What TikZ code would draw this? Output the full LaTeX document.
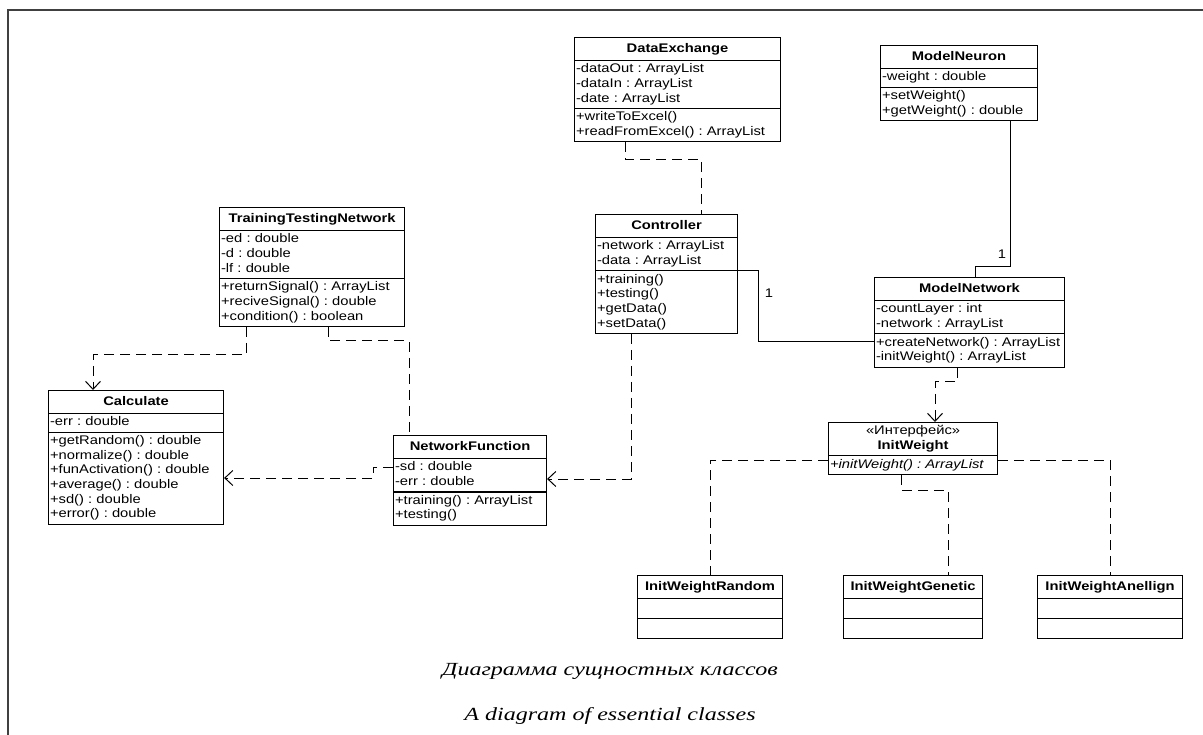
\documentclass[tikz,border=0pt]{standalone}
\usepackage{fontspec}
\setsansfont{Liberation Sans}[FakeStretch=1.18]
\newfontfamily\capfont{Liberation Serif}[FakeStretch=1.3]
\usetikzlibrary{arrows.meta}
\usetikzlibrary{calc}
\usetikzlibrary{positioning}
\usetikzlibrary{shapes.multipart}
\frenchspacing

\newcommand{\clsline}[1]{\hbox to\hsize{\hss#1\hss}}
\newcommand{\clsname}[1]{\clsline{\rule[-6pt]{0pt}{19pt}\textbf{#1}}}

\begin{document}
\begin{tikzpicture}[x=1pt,y=-1pt,font=\sffamily\fontsize{12.5}{14.6}\selectfont]
\tikzstyle{umlclass}=[rectangle split,rectangle split parts=3,draw,line width=1.1pt,anchor=north west,inner xsep=1.5pt,inner ysep=1.5pt,align=left]
\tikzstyle{dep}=[draw,line width=1pt,dash pattern=on 10pt off 6pt]
\tikzstyle{assoc}=[draw,line width=1pt]
\tikzstyle{deparrow}=[-{Straight Barb[length=8pt,width=15pt]}]
\tikzstyle{caption}=[font=\capfont\itshape\fontsize{18.5}{22}\selectfont]
\useasboundingbox (0,0) rectangle (1203,735);
\draw[line width=1.3pt,black!75] (8,735) -- (8,10) -- (1203,10);
\node[umlclass,text width=203pt] (dex) at (574,37) {\clsname{DataExchange}
  \nodepart{two}\strut-dataOut : ArrayList\\-dataIn : ArrayList\\-date : ArrayList\strut
  \nodepart{three}\strut+writeToExcel()\\+readFromExcel() : ArrayList\strut};
\node[umlclass,text width=154pt] (neuron) at (880,45) {\clsname{ModelNeuron}
  \nodepart{two}\strut-weight : double\strut
  \nodepart{three}\strut+setWeight()\\+getWeight() : double\strut};
\node[umlclass,text width=182pt] (ttn) at (219,207) {\clsname{TrainingTestingNetwork}
  \nodepart{two}\strut-ed : double\\-d : double\\-lf : double\strut
  \nodepart{three}\strut+returnSignal() : ArrayList\\+reciveSignal() : double\\+condition() : boolean\strut};
\node[umlclass,text width=139pt] (ctrl) at (595,214) {\clsname{Controller}
  \nodepart{two}\strut-network : ArrayList\\-data : ArrayList\strut
  \nodepart{three}\strut+training()\\+testing()\\+getData()\\+setData()\strut};
\node[umlclass,text width=187pt] (mnet) at (874,277) {\clsname{ModelNetwork}
  \nodepart{two}\strut-countLayer : int\\-network : ArrayList\strut
  \nodepart{three}\strut+createNetwork() : ArrayList\\-initWeight() : ArrayList\strut};
\node[umlclass,text width=172pt] (calc) at (48,390) {\clsname{Calculate}
  \nodepart{two}\strut-err : double\strut
  \nodepart{three}\strut+getRandom() : double\\+normalize() : double\\+funActivation() : double\\+average() : double\\+sd() : double\\+error() : double\strut};
\node[umlclass,text width=150pt] (netfun) at (393,435) {\clsname{NetworkFunction}
  \nodepart{two}\strut-sd : double\\-err : double\strut
  \nodepart{three}\strut+training() : ArrayList\\+testing()\strut};
\node[umlclass,rectangle split parts=2,text width=166pt] (initw) at (828,422) {\clsline{\strut«Интерфейс»}\par\clsline{\textbf{InitWeight}\strut}
  \nodepart{two}\strut\textit{+initWeight() : ArrayList}\strut};
\node[umlclass,text width=142pt] (rand) at (637,575) {\clsname{InitWeightRandom}
  \nodepart{two}\rule{0pt}{16pt}\nodepart{three}\rule{0pt}{16pt}};
\node[umlclass,text width=136pt] (gen) at (843,575) {\clsname{InitWeightGenetic}
  \nodepart{two}\rule{0pt}{16pt}\nodepart{three}\rule{0pt}{16pt}};
\node[umlclass,text width=142pt] (anel) at (1037,575) {\clsname{InitWeightAnellign}
  \nodepart{two}\rule{0pt}{16pt}\nodepart{three}\rule{0pt}{16pt}};
\draw[dep] ($(dex.south west)+(51,0)$) -- ++(0,17) -| ($(ctrl.north west)+(106,0)$);
\draw[assoc] ($(neuron.south west)+(130,0)$) -- node[left,pos=0.92] {1} ++(0,145) -| ($(mnet.north west)+(101,0)$);
\draw[assoc] (ctrl.two split east) -- ++(20,0) |- node[right=3pt,pos=0.16] {1} ($(mnet.north west)+(0,65)$);
\draw[dep,deparrow] ($(mnet.south west)+(83,0)$) -- ++(0,14) -| ($(initw.north west)+(107,0)$);
\draw[dep] ($(initw.north west)+(0,38)$) -| ($(rand.north west)+(73,0)$);
\draw[dep] ($(initw.south west)+(73,0)$) -- ++(0,15) -| ($(gen.north west)+(105,0)$);
\draw[dep] ($(initw.north east)+(0,38)$) -| ($(anel.north west)+(73,0)$);
\draw[dep,deparrow] ($(ttn.south west)+(27,0)$) -- ++(0,28) -| ($(calc.north west)+(45,0)$);
\draw[dep] ($(ttn.south west)+(109,0)$) -- ++(0,14) -| ($(netfun.north west)+(16,0)$);
\draw[dep,deparrow] ($(netfun.north west)+(0,32)$) -- ++(-20,0) |- ($(calc.north east)+(0,88)$);
\draw[dep,deparrow] ($(ctrl.south west)+(36,0)$) |- ($(netfun.north east)+(0,44)$);
\node[caption] (capru) at (610,671) {Диаграмма сущностных классов};
\node[caption] (capen) at (610,716) {A diagram of essential classes};
\end{tikzpicture}
\end{document}
